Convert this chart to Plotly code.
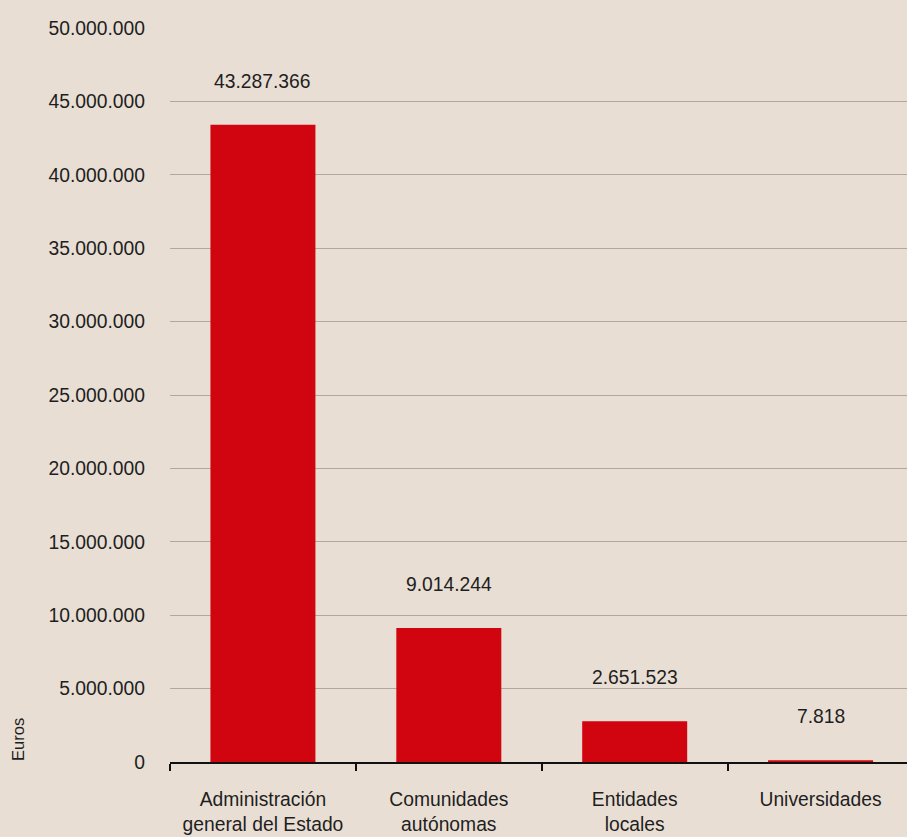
import plotly.graph_objects as go

categories = ["Administración<br>general del Estado", "Comunidades<br>autónomas", "Entidades<br>locales", "Universidades"]
values = [43287366, 9014244, 2651523, 7818]
value_labels = ["43.287.366", "9.014.244", "2.651.523", "7.818"]
y_tickvals = [0, 5000000, 10000000, 15000000, 20000000, 25000000, 30000000, 35000000, 40000000, 45000000, 50000000]
y_ticktext = ["0", "5.000.000", "10.000.000", "15.000.000", "20.000.000", "25.000.000",
              "30.000.000", "35.000.000", "40.000.000", "45.000.000", "50.000.000"]

BG = "#E9DED4"
RED = "#D0050F"
FONT = "Liberation Sans, Arial, sans-serif"
TXT = "#1E1E1E"
FS = 19.3

fig = go.Figure()
fig.add_trace(go.Bar(
    x=categories, y=values,
    marker=dict(color=RED, line=dict(color=RED, width=3.5)),
    width=0.546,
    hoverinfo="skip",
))

for c, v, t in zip(categories, values, value_labels):
    fig.add_annotation(x=c, y=v, text=t, showarrow=False, yanchor="bottom",
                       yshift=33, font=dict(size=FS, color=TXT, family=FONT))

fig.add_annotation(xref="paper", yref="paper", x=-0.207, y=0.0, text="Euros",
                   textangle=-90, showarrow=False, xanchor="center", yanchor="bottom",
                   yshift=-1, font=dict(size=16.5, color=TXT, family=FONT))

fig.update_layout(
    width=907, height=837,
    paper_bgcolor=BG, plot_bgcolor=BG,
    margin=dict(l=170, r=0, t=28, b=75),
    showlegend=False,
    font=dict(family=FONT, size=FS, color=TXT),
)
fig.update_yaxes(
    range=[0, 50000000], tickvals=y_tickvals, ticktext=y_ticktext,
    showgrid=True, gridcolor="#B2A79D", gridwidth=1,
    zeroline=False, showline=False, ticks="", ticklabelstandoff=24,
    tickfont=dict(size=FS, color=TXT),
)
fig.update_xaxes(
    range=[-0.5, 3.465],
    showline=True, linecolor="#111111", linewidth=2,
    ticks="outside", tickson="boundaries", ticklen=7, tickwidth=2, tickcolor="#111111",
    tickfont=dict(size=FS, color=TXT), ticklabelstandoff=19,
    showgrid=False,
)

fig.write_html("out.html")
